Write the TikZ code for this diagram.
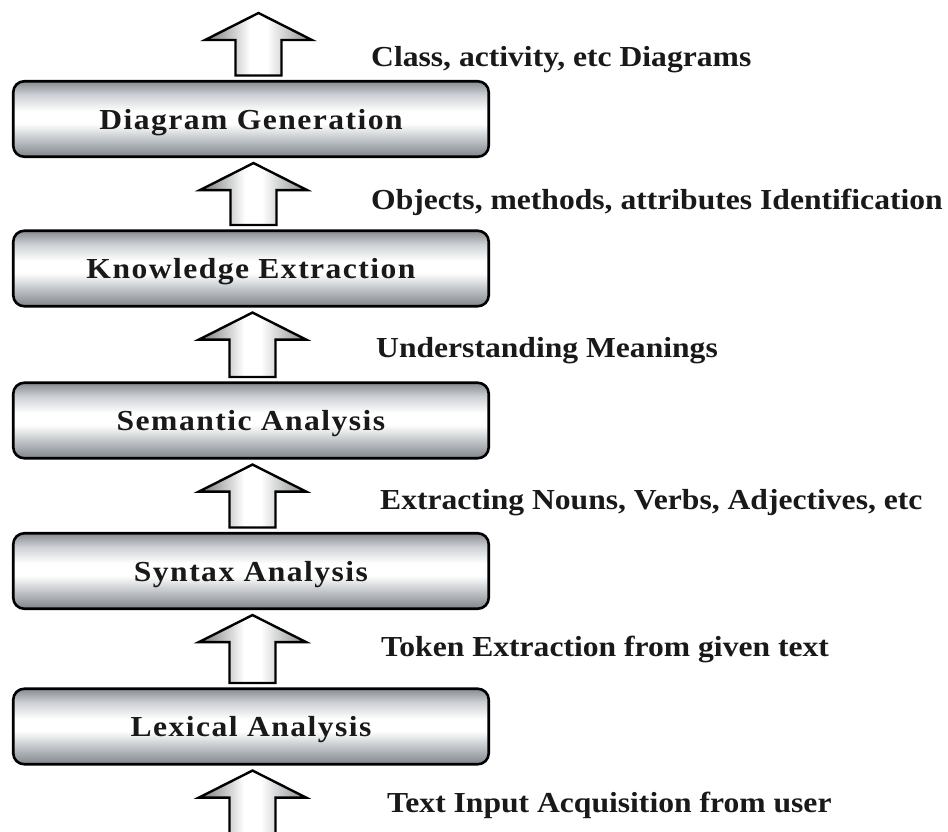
\documentclass[tikz,border=0pt]{standalone}
\usepackage{fontspec}
\setmainfont{Liberation Serif}
\newfontfamily\labfont{Liberation Serif}[FakeStretch=1.09]
\newfontfamily\boxfont{Liberation Serif}[FakeStretch=1.09,LetterSpace=5]
\usetikzlibrary{calc}
\definecolor{btop}{RGB}{135,140,146}
\definecolor{blight}{RGB}{205,208,212}
\definecolor{bmid}{RGB}{190,194,198}
\definecolor{bbot}{RGB}{128,133,139}
\definecolor{aleft}{RGB}{115,117,120}
\definecolor{aright}{RGB}{135,137,140}
\definecolor{ink}{RGB}{25,25,25}
\pgfdeclareverticalshading{boxshade}{100bp}{color(0bp)=(bbot); color(25bp)=(bbot); color(36bp)=(bmid); color(47bp)=(white); color(55bp)=(white); color(66bp)=(blight); color(75bp)=(btop); color(100bp)=(btop)}
\pgfdeclarehorizontalshading{arrshade}{100bp}{color(0bp)=(aleft); color(25bp)=(aleft); color(46bp)=(white); color(54bp)=(white); color(75bp)=(aright); color(100bp)=(aright)}
\newcommand\blockarrow[3][0]{%
  \path[blockarr] let \p1=($(#2)+(#1,0)$), \p2=($(#3)+(#1,0)$) in
    (\x1-23pt,\y1+4.5pt) -- (\x1-23pt,\y2-32pt) -- (\x1-53.5pt,\y2-32pt) --
    (\x1,\y2-5pt) -- (\x1+53.5pt,\y2-32pt) -- (\x1+23pt,\y2-32pt) --
    (\x1+23pt,\y1+4.5pt) -- cycle;}
\begin{document}
\begin{tikzpicture}[x=1pt,y=-1pt,
  stage/.style={draw=black, line width=2.6pt, rounded corners=11pt, shade, shading=boxshade,
    minimum width=475.5pt, minimum height=75.5pt, inner sep=0pt, text height=20pt, text depth=0pt,
    font=\boxfont\bfseries\fontsize{29}{34}\selectfont, text=ink},
  lab/.style={anchor=base west, inner sep=0pt,
    font=\labfont\bfseries\fontsize{29}{34}\selectfont, text=ink},
  blockarr/.style={draw=black, line width=2.4pt, line join=miter, shade, shading=arrshade}]
\useasboundingbox (0,0) rectangle (948,831);
\node[stage] (dg)  at (251,119)   {Diagram Generation};
\node[stage] (ke)  at (251,268.5) {Knowledge Extraction};
\node[stage] (sem) at (251,420.5) {Semantic Analysis};
\node[stage] (syn) at (251,571)   {Syntax Analysis};
\node[stage] (lex) at (251,726.5) {Lexical Analysis};
\coordinate (topend) at (251,8);
\coordinate (botend) at (251,850);
\blockarrow[7.5]{dg.north}{topend}
\blockarrow[2.5]{ke.north}{dg.south}
\blockarrow[1.5]{sem.north}{ke.south}
\blockarrow[1.5]{syn.north}{sem.south}
\blockarrow[1.5]{lex.north}{syn.south}
\blockarrow[1.5]{botend}{lex.south}
\node[lab] (l1) at (371,66.5)  {Class, activity, etc Diagrams};
\node[lab] (l2) at (371,209.5) {Objects, methods, attributes Identification};
\node[lab] (l3) at (376,357.5) {Understanding Meanings};
\node[lab] (l4) at (380,509.5) {Extracting Nouns, Verbs, Adjectives, etc};
\node[lab] (l5) at (381,656.5) {Token Extraction from given text};
\node[lab] (l6) at (387,812.5) {Text Input Acquisition from user};
\end{tikzpicture}
\end{document}
